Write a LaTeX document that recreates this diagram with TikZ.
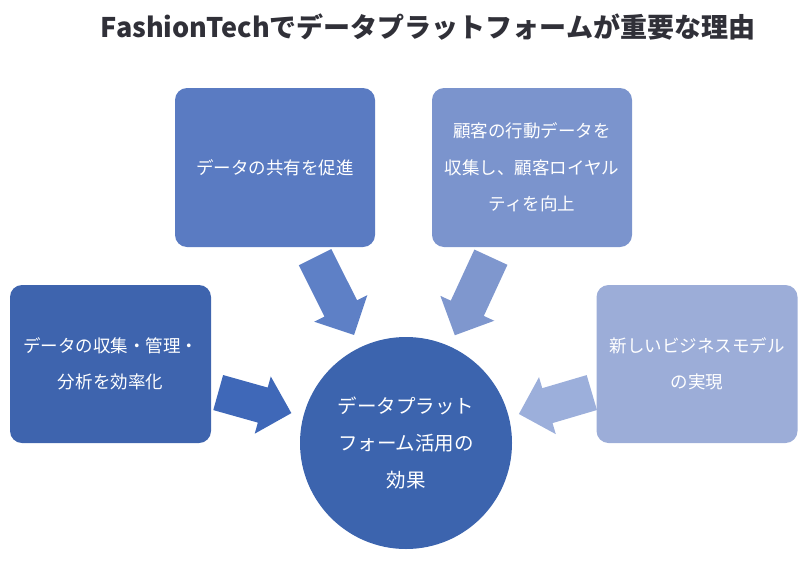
\documentclass[tikz,border=0pt]{standalone}
\usepackage{fontspec}
\setmainfont{Noto Sans CJK JP}
\usetikzlibrary{shapes.arrows}
\definecolor{cTitle}{HTML}{303038}
\definecolor{cBoxA}{HTML}{5A7BC2}
\definecolor{cBoxB}{HTML}{7B94CD}
\definecolor{cBoxC}{HTML}{3E64AE}
\definecolor{cBoxD}{HTML}{9CADD8}
\definecolor{cCirc}{HTML}{3C64AE}
\definecolor{cArrA}{HTML}{5E80C6}
\definecolor{cArrB}{HTML}{7F97CE}
\definecolor{cArrC}{HTML}{3F68B8}
\definecolor{cArrD}{HTML}{9CAFDB}
\tikzset{
  infobox/.style={rectangle, rounded corners=12pt, minimum width=200pt, minimum height=159pt,
    inner sep=0pt, align=center, text=white, font=\fontsize{17.5}{36.5}\selectfont},
  hub/.style={circle, minimum size=212pt, inner sep=0pt, align=center, text=white,
    fill=cCirc, font=\fontsize{19.5}{37}\selectfont},
  blockarrow/.style={single arrow, anchor=tail, minimum width=0pt, inner xsep=0pt, inner ysep=18pt,
    single arrow head extend=11.5pt, single arrow tip angle=90, draw=none, font=\tiny}
}
\begin{document}
\begin{tikzpicture}[x=1pt,y=-1pt]
\useasboundingbox (0,0) rectangle (810,562);
\node[font=\fontsize{27}{30}\selectfont\bfseries, text=cTitle] (title) at (428,27) {FashionTechでデータプラットフォームが重要な理由};
\node[infobox, fill=cBoxA] (share) at (275,167.5) {データの共有を促進};
\node[infobox, fill=cBoxB] (loyal) at (532,167.5) {顧客の行動データを\\収集し、顧客ロイヤル\\ティを向上};
\node[infobox, fill=cBoxC, minimum width=201pt, minimum height=158pt] (collect) at (110.5,364) {データの収集・管理・\\分析を効率化};
\node[infobox, fill=cBoxD, minimum width=201pt, minimum height=158pt] (model) at (697,364) {新しいビジネスモデル\\の実現};
\node[hub] (hub) at (406,443) {データプラット\\フォーム活用の\\効果};
\node[blockarrow, fill=cArrA, minimum height=87pt, rotate=-63.4] (arrA) at (315,257) {};
\node[blockarrow, fill=cArrB, minimum height=86pt, rotate=-114.8] (arrB) at (491,257) {};
\node[blockarrow, fill=cArrC, minimum height=76pt, rotate=-15.7] (arrC) at (218,392.5) {};
\node[blockarrow, fill=cArrD, minimum height=76pt, rotate=-163.6] (arrD) at (592,392.5) {};
\end{tikzpicture}
\end{document}
